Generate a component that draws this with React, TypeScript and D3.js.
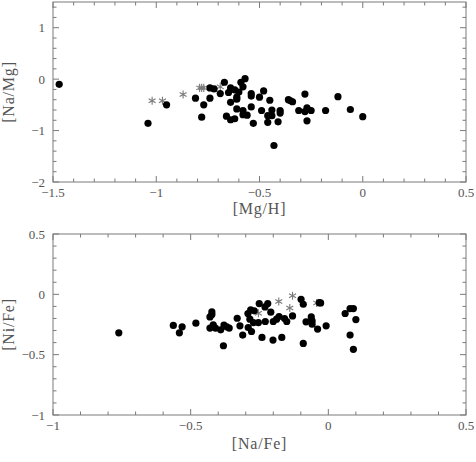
import React, { useEffect, useRef } from "react";
import * as d3 from "d3";

// top panel: [Mg/H] vs [Na/Mg]
const mgH = [-1.47, -1.04, -0.95, -0.81, -0.78, -0.77, -0.74, -0.74, -0.72, -0.69, -0.67, -0.66, -0.65, -0.64, -0.64, -0.64, -0.62, -0.62, -0.61, -0.61, -0.61, -0.6, -0.59, -0.58, -0.58, -0.57, -0.58, -0.56, -0.54, -0.54, -0.54, -0.53, -0.5, -0.49, -0.48, -0.46, -0.46, -0.45, -0.44, -0.44, -0.43, -0.41, -0.4, -0.4, -0.36, -0.35, -0.34, -0.31, -0.28, -0.28, -0.27, -0.27, -0.25, -0.18, -0.12, -0.06, 0.0];
const naMg = [-0.1, -0.86, -0.5, -0.37, -0.74, -0.5, -0.37, -0.17, -0.19, -0.28, -0.06, -0.72, -0.26, -0.17, -0.45, -0.79, -0.77, -0.21, -0.39, -0.58, -0.35, -0.25, -0.06, -0.61, -0.15, 0.01, -0.69, -0.7, -0.28, -0.33, -0.54, -0.86, -0.35, -0.61, -0.23, -0.84, -0.71, -0.41, -0.6, -0.71, -1.29, -0.83, -0.61, -0.66, -0.4, -0.42, -0.44, -0.61, -0.29, -0.63, -0.56, -0.81, -0.61, -0.61, -0.34, -0.59, -0.73];
const mgHStar = [-1.02, -0.97, -0.87, -0.79, -0.78, -0.77, -0.69];
const naMgStar = [-0.42, -0.42, -0.3, -0.17, -0.17, -0.17, -0.15];

// bottom panel: [Na/Fe] vs [Ni/Fe]
const naFe = [-0.761, -0.563, -0.541, -0.531, -0.481, -0.43, -0.423, -0.423, -0.43, -0.418, -0.41, -0.391, -0.381, -0.379, -0.369, -0.36, -0.331, -0.321, -0.311, -0.292, -0.291, -0.285, -0.282, -0.279, -0.272, -0.269, -0.254, -0.251, -0.241, -0.23, -0.229, -0.22, -0.209, -0.201, -0.2, -0.188, -0.179, -0.169, -0.159, -0.151, -0.13, -0.099, -0.091, -0.091, -0.081, -0.062, -0.059, -0.059, -0.039, -0.033, -0.028, -0.008, 0.061, 0.079, 0.091, 0.079, 0.1, 0.091];
const niFe = [-0.319, -0.258, -0.319, -0.269, -0.239, -0.187, -0.146, -0.168, -0.28, -0.253, -0.28, -0.294, -0.426, -0.255, -0.269, -0.28, -0.198, -0.261, -0.338, -0.159, -0.275, -0.206, -0.129, -0.308, -0.234, -0.137, -0.234, -0.077, -0.357, -0.104, -0.225, -0.077, -0.148, -0.379, -0.225, -0.206, -0.184, -0.357, -0.201, -0.225, -0.179, -0.041, -0.082, -0.407, -0.228, -0.187, -0.22, -0.247, -0.288, -0.069, -0.071, -0.261, -0.159, -0.118, -0.118, -0.338, -0.209, -0.456];
const naFeStar = [-0.254, -0.18, -0.14, -0.13, -0.042];
const niFeStar = [-0.157, -0.06, -0.113, -0.011, -0.071];

const topXTicks = [-1.5, -1, -0.5, 0, 0.5];
const topYTicks = [-2, -1, 0, 1];
const botXTicks = [-1, -0.5, 0, 0.5];
const botYTicks = [-1, -0.5, 0, 0.5];

const FONT = "'Liberation Serif', 'DejaVu Serif', serif";
const FRAME = "#7a7a7a";
const TEXT = "#555";
const STAR = "#7a7a7a";

type PanelCfg = {
  top: number;
  bottom: number;
  xDomain: [number, number];
  yDomain: [number, number];
  xMinor: number;
  yMinor: number;
  xTicks: number[];
  yTicks: number[];
  xs: number[];
  ys: number[];
  xStar: number[];
  yStar: number[];
  xLabel: string;
  yLabel: string;
  xLabelGap: number;
};

const fmt = (v: number) => (v < 0 ? "\u2212" + String(Math.abs(v)) : String(v));

function drawPanel(svg: d3.Selection<SVGSVGElement, unknown, null, undefined>, c: PanelCfg) {
  const left = 53;
  const right = 466;
  const x = d3.scaleLinear().domain(c.xDomain).range([left, right]);
  const y = d3.scaleLinear().domain(c.yDomain).range([c.bottom, c.top]);
  const g = svg.append("g");

  const minor = (lo: number, hi: number, step: number) =>
    d3.range(Math.round((hi - lo) / step) + 1).map((i) => lo + i * step);
  const isMajor = (v: number, majors: number[]) => majors.some((m) => Math.abs(m - v) < 1e-6);

  // ticks on all four sides, pointing inward
  minor(c.xDomain[0], c.xDomain[1], c.xMinor).forEach((v) => {
    const len = isMajor(v, c.xTicks) ? 6 : 3.5;
    g.append("line").attr("x1", x(v)).attr("x2", x(v)).attr("y1", c.bottom).attr("y2", c.bottom - len).attr("stroke", FRAME);
    g.append("line").attr("x1", x(v)).attr("x2", x(v)).attr("y1", c.top).attr("y2", c.top + len).attr("stroke", FRAME);
  });
  minor(c.yDomain[0], c.yDomain[1], c.yMinor).forEach((v) => {
    const len = isMajor(v, c.yTicks) ? 6 : 3.5;
    g.append("line").attr("y1", y(v)).attr("y2", y(v)).attr("x1", left).attr("x2", left + len).attr("stroke", FRAME);
    g.append("line").attr("y1", y(v)).attr("y2", y(v)).attr("x1", right).attr("x2", right - len).attr("stroke", FRAME);
  });

  g.append("rect")
    .attr("x", left)
    .attr("y", c.top)
    .attr("width", right - left)
    .attr("height", c.bottom - c.top)
    .attr("fill", "none")
    .attr("stroke", FRAME);

  c.xTicks.forEach((v) => {
    g.append("text")
      .attr("x", x(v))
      .attr("y", c.bottom + 15)
      .attr("text-anchor", "middle")
      .attr("fill", TEXT)
      .style("font-family", FONT)
      .style("font-size", "13px")
      .text(fmt(v));
  });
  c.yTicks.forEach((v) => {
    g.append("text")
      .attr("x", left - 8)
      .attr("y", y(v) + 4.5)
      .attr("text-anchor", "end")
      .attr("fill", TEXT)
      .style("font-family", FONT)
      .style("font-size", "13px")
      .text(fmt(v));
  });

  g.append("text")
    .attr("x", (left + right) / 2)
    .attr("y", c.bottom + c.xLabelGap)
    .attr("text-anchor", "middle")
    .attr("fill", TEXT)
    .style("font-family", FONT)
    .style("font-size", "16px")
    .style("letter-spacing", "0.8px")
    .text(c.xLabel);
  g.append("text")
    .attr("transform", `translate(14,${(c.top + c.bottom) / 2}) rotate(-90)`)
    .attr("text-anchor", "middle")
    .attr("fill", TEXT)
    .style("font-family", FONT)
    .style("font-size", "16px")
    .style("letter-spacing", "0.8px")
    .text(c.yLabel);

  // asterisks
  const star = d3.symbol().type(d3.symbolAsterisk).size(45);
  c.xStar.forEach((v, i) => {
    g.append("path")
      .attr("d", star()!)
      .attr("transform", `translate(${x(v)},${y(c.yStar[i])})`)
      .attr("fill", "none")
      .attr("stroke", STAR)
      .attr("stroke-width", 1.1);
  });

  c.xs.forEach((v, i) => {
    g.append("circle").attr("cx", x(v)).attr("cy", y(c.ys[i])).attr("r", 3.6).attr("fill", "#000");
  });
}

export default function App() {
  const ref = useRef<SVGSVGElement>(null);

  useEffect(() => {
    if (!ref.current) return;
    const svg = d3.select(ref.current);
    svg.selectAll("*").remove();

    drawPanel(svg, {
      top: 2,
      bottom: 182,
      xDomain: [-1.5, 0.5],
      yDomain: [-2, 1.5],
      xMinor: 0.1,
      yMinor: 0.2,
      xTicks: topXTicks,
      yTicks: topYTicks,
      xs: mgH,
      ys: naMg,
      xStar: mgHStar,
      yStar: naMgStar,
      xLabel: "[Mg/H]",
      yLabel: "[Na/Mg]",
      xLabelGap: 32,
    });

    drawPanel(svg, {
      top: 234,
      bottom: 415,
      xDomain: [-1, 0.5],
      yDomain: [-1, 0.5],
      xMinor: 0.1,
      yMinor: 0.1,
      xTicks: botXTicks,
      yTicks: botYTicks,
      xs: naFe,
      ys: niFe,
      xStar: naFeStar,
      yStar: niFeStar,
      xLabel: "[Na/Fe]",
      yLabel: "[Ni/Fe]",
      xLabelGap: 34,
    });
  }, []);

  return (
    <svg
      ref={ref}
      width={476}
      height={462}
      style={{ position: "absolute", left: 0, top: 0, background: "#fff" }}
    />
  );
}
